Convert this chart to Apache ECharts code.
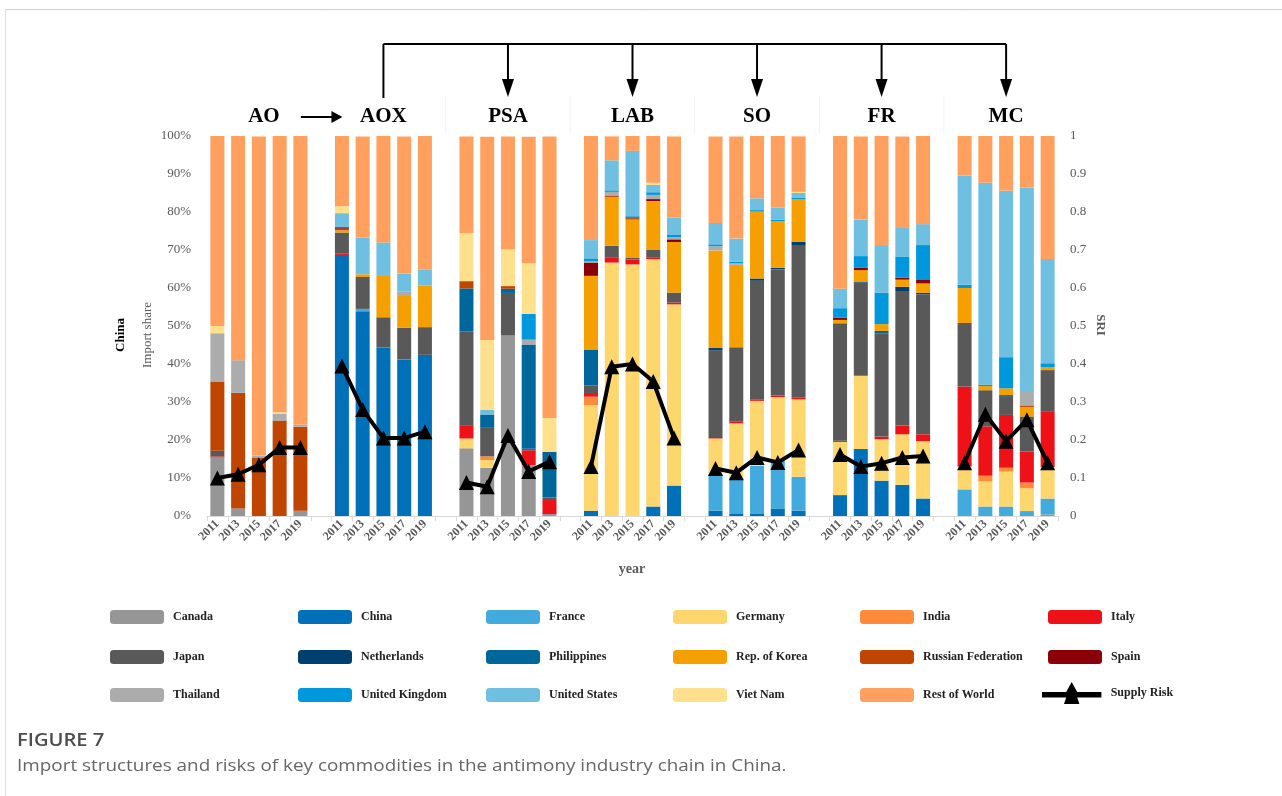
<!DOCTYPE html>
<html><head><meta charset="utf-8">
<script src="https://cdn.jsdelivr.net/npm/echarts@6/dist/echarts.min.js"></script>
<style>html,body{margin:0;padding:0;background:#fff}#c{width:1282px;height:796px}</style>
</head><body><div id="c"></div>
<script>
// Groups (commodities) and years; each country array holds 35 values: 5 years x 7 groups in this order
const groups = ['AO', 'AOX', 'PSA', 'LAB', 'SO', 'FR', 'MC'];
const years = ['2011', '2013', '2015', '2017', '2019'];
const countries = ['Canada', 'China', 'France', 'Germany', 'India', 'Italy', 'Japan', 'Netherlands', 'Philippines',
  'Rep. of Korea', 'Russian Federation', 'Spain', 'Thailand', 'United Kingdom', 'United States', 'Viet Nam', 'Rest of World'];
const colors = ['#969696', '#0070b8', '#42aadc', '#fed66e', '#fe8b3a', '#ee1118', '#595959', '#003f6e', '#00679a',
  '#f5a000', '#c04500', '#8b0008', '#acacac', '#0098dd', '#6ebfe0', '#ffe08c', '#ffa05f'];

//                 AO                          AOX                          PSA                            LAB                            SO                             FR                             MC
const Canada    = [15.4, 2, 0, 0, 1.4,          0, 0, 0, 0, 0,               17.8, 12.7, 47.6, 13.4, 0.5,   0, 0, 0, 0, 0,                 0, 0, 0, 0, 0,                 0, 0, 0, 0, 0,                 0, 0, 0, 0, 0.4];
const China     = [0, 0, 0, 0, 0,               68.7, 53.9, 44.3, 41.2, 42.4, 0, 0, 0, 0, 0,                 1.4, 0, 0, 2.5, 8,             1.4, 0.7, 0.7, 2, 1.4,         5.5, 17.6, 9.3, 8.2, 4.6,      0, 0, 0, 0, 0];
const France    = [0, 0, 0, 0, 0,               0, 0.6, 0, 0, 0,             0, 0, 0, 0, 0,                 0, 0, 0, 0, 0,                 9.6, 9.2, 12.5, 12.5, 8.9,     0, 0, 0, 0, 0,                 7, 2.5, 2.5, 1.3, 4.2];
const Germany   = [0, 0, 0, 0, 0,               0, 0, 0, 0, 0,               2.6, 2, 0, 0, 0,               27.8, 66.7, 66.2, 65.1, 47.7,  9.4, 14.5, 17.1, 16.8, 20.4,   14, 19.3, 10.9, 13.3, 15.1,    6, 6.6, 9.2, 6, 8.3];
const India     = [0, 0, 0, 0, 0,               0, 0, 0, 0, 0,               0, 1, 0, 0, 0,                 2.2, 0, 0, 0, 0,               0, 0, 0, 0, 0,                 0, 0, 0, 0, 0,                 0, 1.5, 1, 1.5, 0];
const Italy     = [0.3, 0, 0, 0, 0,             0.3, 0, 0, 0, 0,             3.5, 0, 0, 3.9, 3.7,           0.7, 1.4, 1.3, 0.5, 0.5,       0.4, 0.4, 0.3, 0.4, 0.5,       0.3, 0, 0.7, 2.3, 1.8,         21.1, 13, 13.9, 8.2, 14.5];
const Japan     = [1.5, 0, 0, 0, 0,             5.6, 8.4, 8, 8.3, 7.3,       24.6, 7.5, 11.1, 0.4, 0.7,     2.2, 3, 0.4, 1.9, 2.6,         22.8, 19.6, 31.3, 33.2, 40.1,  30.9, 24.5, 27.2, 35.4, 36.8,  16.7, 9.5, 4.8, 9.2, 11];
const Netherlands=[0, 0, 0, 0, 0,               0, 0, 0, 0, 0,               0, 0, 0, 0, 0,                 0, 0, 0, 0, 0,                 0.6, 0, 0.6, 0.4, 0.9,         0, 0.3, 0, 1.1, 0.4,           0, 0, 0.4, 0, 0];
const Philippines=[0, 0, 0, 0, 0,               0, 0, 0, 0, 0,               11.4, 3.5, 1.1, 27.4, 12,      9.4, 0, 0, 0, 0,               0, 0, 0, 0, 0,                 0, 0, 0.6, 0, 0,               0, 0, 0, 0, 0];
const Korea     = [0, 0, 0, 0, 0,               0.6, 0.7, 11.1, 8.4, 11,     0, 0, 0, 0, 0,                 19.5, 12.8, 10.1, 12.9, 13.3,  25.7, 21.7, 17.6, 12.3, 11.1,  0.9, 3, 1.8, 1.9, 2.5,         9.2, 1.1, 1.8, 2.5, 0.7];
const Russia    = [18.2, 30.4, 15.4, 25.1, 22.1, 0.4, 0, 0, 0, 0,            1.9, 0, 0.7, 0, 0,             0, 0.3, 0.4, 0, 0,             0, 0, 0, 0, 0,                 0, 0, 0, 0, 0,                 0, 0, 0, 0.4, 0];
const Spain     = [0, 0, 0, 0, 0,               0.4, 0, 0, 0, 0,             0, 0, 0, 0, 0,                 3.5, 0, 0, 0.5, 0.7,           0, 0, 0, 0, 0,                 0.6, 0.6, 0, 0.5, 0.9,         0, 0, 0, 0, 0];
const Thailand  = [12.7, 8.6, 0.5, 1.8, 0.5,    0, 0, 0, 1.1, 0,             0, 0, 0, 1.3, 0,               0.3, 1.1, 0, 1.1, 0.6,         1.1, 0.4, 0, 0, 0,             0, 0, 0, 0, 0,                 0, 0, 0, 3.8, 0];
const UK        = [0, 0, 0, 0, 0,               0, 0, 0, 0, 0,               0, 0, 0, 6.8, 0,               0.8, 0.4, 0.5, 0.7, 0.7,       0.5, 0.4, 0.4, 0.4, 0.4,       2.5, 3.1, 8.3, 5.6, 9.2,       0.9, 0.4, 8.2, 0, 1.1];
const US        = [0, 0, 0, 0, 0,               3.7, 9.6, 8.6, 4.8, 4.1,     0, 1.2, 0, 0, 0,               4.8, 7.9, 17.2, 1.9, 4.4,      5.6, 6.1, 3.1, 3.1, 1.3,       5.1, 9.6, 12.5, 7.5, 5.5,      28.7, 53.1, 43.8, 53.5, 27.4];
const VietNam   = [1.9, 0, 0, 0.4, 0,           1.8, 0, 0, 0, 0,             12.7, 18.4, 9.6, 13.3, 8.9,    0, 0, 0, 0.6, 0,               0, 0, 0, 0, 0.3,               0, 0, 0, 0, 0,                 0, 0, 0, 0, 0];
const RestWorld = [50, 59, 84, 72.7, 76,        18.6, 26.7, 28, 36.1, 35.3,  25.4, 53.5, 29.8, 33.3, 74.1,  27.4, 6.3, 3.9, 12.3, 21.4,    22.8, 26.9, 16.4, 18.9, 14.6,  40.3, 21.9, 28.7, 24.1, 23.2,  10.5, 12.5, 14.5, 13.8, 32.5];
const supplyRisk= [0.10, 0.11, 0.135, 0.18, 0.18, 0.395, 0.28, 0.205, 0.205, 0.222, 0.088, 0.077, 0.212, 0.117, 0.143,
                   0.13, 0.393, 0.40, 0.354, 0.205, 0.125, 0.114, 0.154, 0.141, 0.174, 0.162, 0.13, 0.139, 0.154, 0.158,
                   0.14, 0.268, 0.197, 0.253, 0.14];
const shareTicks = {min: 0, max: 100, interval: 10};
const sriTicks = {min: 0, max: 1, interval: 0.1};

const countryData = [Canada, China, France, Germany, India, Italy, Japan, Netherlands, Philippines, Korea, Russia, Spain, Thailand, UK, US, VietNam, RestWorld];

// Build category axis: 5 years per group, one empty slot between groups
const categories = [];
groups.forEach((g, gi) => { years.forEach(y => categories.push(y)); if (gi < groups.length - 1) categories.push(''); });
function withGaps(arr) {
  const out = [];
  groups.forEach((g, gi) => {
    for (let k = 0; k < 5; k++) out.push(arr[gi * 5 + k]);
    if (gi < groups.length - 1) out.push(null);
  });
  return out;
}
function groupCenterIndex(gi) { return gi * 6 + 2; }

const serif = 'Liberation Serif';
const chart = echarts.init(document.getElementById('c'));

const series = countries.map((c, i) => ({
  name: c, type: 'bar', stack: 'share', barWidth: 14,
  itemStyle: {color: colors[i]},
  data: withGaps(countryData[i])
}));
series.push({
  name: 'Supply Risk', type: 'line', yAxisIndex: 1, connectNulls: false,
  symbol: 'triangle', symbolSize: 15, z: 10,
  lineStyle: {color: '#000', width: 4}, itemStyle: {color: '#000'},
  data: withGaps(supplyRisk)
});

const legendLayout = [
  ['Canada', 'China', 'France', 'Germany', 'India', 'Italy'],
  ['Japan', 'Netherlands', 'Philippines', 'Rep. of Korea', 'Russian Federation', 'Spain'],
  ['Thailand', 'United Kingdom', 'United States', 'Viet Nam', 'Rest of World', 'Supply Risk']
];
const colLeft = [110, 298, 486, 673, 860, 1048];
const rowTop = [610, 650, 688];
const legends = [];
legendLayout.forEach((row, r) => row.forEach((name, c) => {
  const isLine = name === 'Supply Risk';
  const lg = {
    data: [name], left: colLeft[c], top: rowTop[r], padding: 0,
    itemWidth: 54, itemHeight: 14, selectedMode: false,
    textStyle: {fontFamily: serif, fontWeight: 'bold', fontSize: 12, color: '#222', padding: [0, 0, 0, 4]}
  };
  if (isLine) {
    lg.data = [{name: name, icon: 'path://M0,9 L22,9 L27,0 L32,9 L54,9 L54,14 L32,14 L34,20 L20,20 L22,14 L0,14 Z'}];
    lg.left = colLeft[c] - 6; lg.top = rowTop[r] - 6; lg.itemWidth = 60; lg.itemHeight = 22;
  }
  legends.push(lg);
}));

const option = {
  animation: false,
  backgroundColor: '#fff',
  grid: {left: 207, right: 224, top: 136, bottom: 280},
  legend: legends,
  xAxis: {
    type: 'category', data: categories,
    axisLine: {lineStyle: {color: '#d9d9d9'}},
    axisTick: {show: true, interval: 0, length: 5, lineStyle: {color: '#d9d9d9'}},
    axisLabel: {interval: 0, rotate: 45, fontFamily: serif, fontWeight: 'bold', fontSize: 12, color: '#595959', margin: 6}
  },
  yAxis: [
    {type: 'value', min: shareTicks.min, max: shareTicks.max, interval: shareTicks.interval,
     axisLine: {show: false}, axisTick: {show: false}, splitLine: {show: false},
     axisLabel: {formatter: '{value}%', fontFamily: serif, fontSize: 13, color: '#595959', margin: 16}},
    {type: 'value', min: sriTicks.min, max: sriTicks.max, interval: sriTicks.interval, position: 'right',
     axisLine: {show: false}, axisTick: {show: false}, splitLine: {show: false},
     axisLabel: {fontFamily: serif, fontSize: 13, color: '#595959', margin: 12,
       formatter: v => String(Math.round(v * 10) / 10)}}
  ],
  series: series
};
chart.setOption(option);

// Annotation graphics positioned from the axis scale
const gx = gi => chart.convertToPixel({xAxisIndex: 0}, groupCenterIndex(gi));
const graphic = [];
const titleY = 117;
groups.forEach((g, gi) => {
  let x = gx(gi);
  if (gi === 0) x += 5;
  graphic.push({type: 'text', x: x, y: titleY,
    style: {text: g, font: 'bold 21px "Liberation Serif"', fill: '#000', textAlign: 'center', textVerticalAlign: 'middle'}});
});
// AO -> AOX arrow
const aoEnd = gx(0) + 42, aoxStart = gx(1) - 41;
graphic.push({type: 'line', shape: {x1: aoEnd, y1: titleY, x2: aoxStart - 8, y2: titleY}, style: {stroke: '#000', lineWidth: 2}});
graphic.push({type: 'polygon', shape: {points: [[aoxStart, titleY], [aoxStart - 11, titleY - 6], [aoxStart - 11, titleY + 6]]}, style: {fill: '#000'}});
// Top bracket arrows
const topY = 44, arrowEnd = 97;
const xAOX = gx(1), xMC = gx(6);
graphic.push({type: 'line', shape: {x1: xAOX, y1: topY, x2: xMC, y2: topY}, style: {stroke: '#000', lineWidth: 2}});
graphic.push({type: 'line', shape: {x1: xAOX, y1: topY, x2: xAOX, y2: 98}, style: {stroke: '#000', lineWidth: 2}});
for (let gi = 2; gi < groups.length; gi++) {
  const x = gx(gi);
  graphic.push({type: 'line', shape: {x1: x, y1: topY, x2: x, y2: arrowEnd - 10}, style: {stroke: '#000', lineWidth: 2}});
  graphic.push({type: 'polygon', shape: {points: [[x, arrowEnd], [x - 6, arrowEnd - 18], [x + 6, arrowEnd - 18]]}, style: {fill: '#000'}});
}
// faint separators between title cells
for (let gi = 1; gi < groups.length - 1; gi++) {
  const x = chart.convertToPixel({xAxisIndex: 0}, gi * 6 + 5);
  graphic.push({type: 'line', shape: {x1: x, y1: 96, x2: x, y2: 134}, style: {stroke: '#f3f3f3', lineWidth: 1}});
}
// axis names
graphic.push({type: 'text', x: 121, y: 335, rotation: Math.PI / 2,
  style: {text: 'China', font: 'bold 13px "Liberation Serif"', fill: '#000', textAlign: 'center', textVerticalAlign: 'middle'}});
graphic.push({type: 'text', x: 148, y: 335, rotation: Math.PI / 2,
  style: {text: 'Import share', font: '13px "Liberation Serif"', fill: '#595959', textAlign: 'center', textVerticalAlign: 'middle'}});
graphic.push({type: 'text', x: 1100, y: 325, rotation: -Math.PI / 2,
  style: {text: 'SRI', font: 'bold 13px "Liberation Serif"', fill: '#595959', textAlign: 'center', textVerticalAlign: 'middle'}});
graphic.push({type: 'text', x: 632, y: 569,
  style: {text: 'year', font: 'bold 14px "Liberation Serif"', fill: '#595959', textAlign: 'center', textVerticalAlign: 'middle'}});
// card border
graphic.push({type: 'line', shape: {x1: 5, y1: 9.5, x2: 1282, y2: 9.5}, style: {stroke: '#cfcfcf', lineWidth: 1}});
graphic.push({type: 'line', shape: {x1: 5.5, y1: 9.5, x2: 5.5, y2: 796}, style: {stroke: '#dedede', lineWidth: 1}});
// caption
graphic.push({type: 'text', x: 17, y: 741, scaleX: 1.12,
  style: {text: 'FIGURE 7', font: '600 18px "Open Sans"', fill: '#4d4d4d', textVerticalAlign: 'middle'}});
graphic.push({type: 'text', x: 17, y: 766, scaleX: 1.18,
  style: {text: 'Import structures and risks of key commodities in the antimony industry chain in China.', font: '16px "Open Sans"', fill: '#666', textVerticalAlign: 'middle'}});

chart.setOption({graphic: graphic});
</script></body></html>
